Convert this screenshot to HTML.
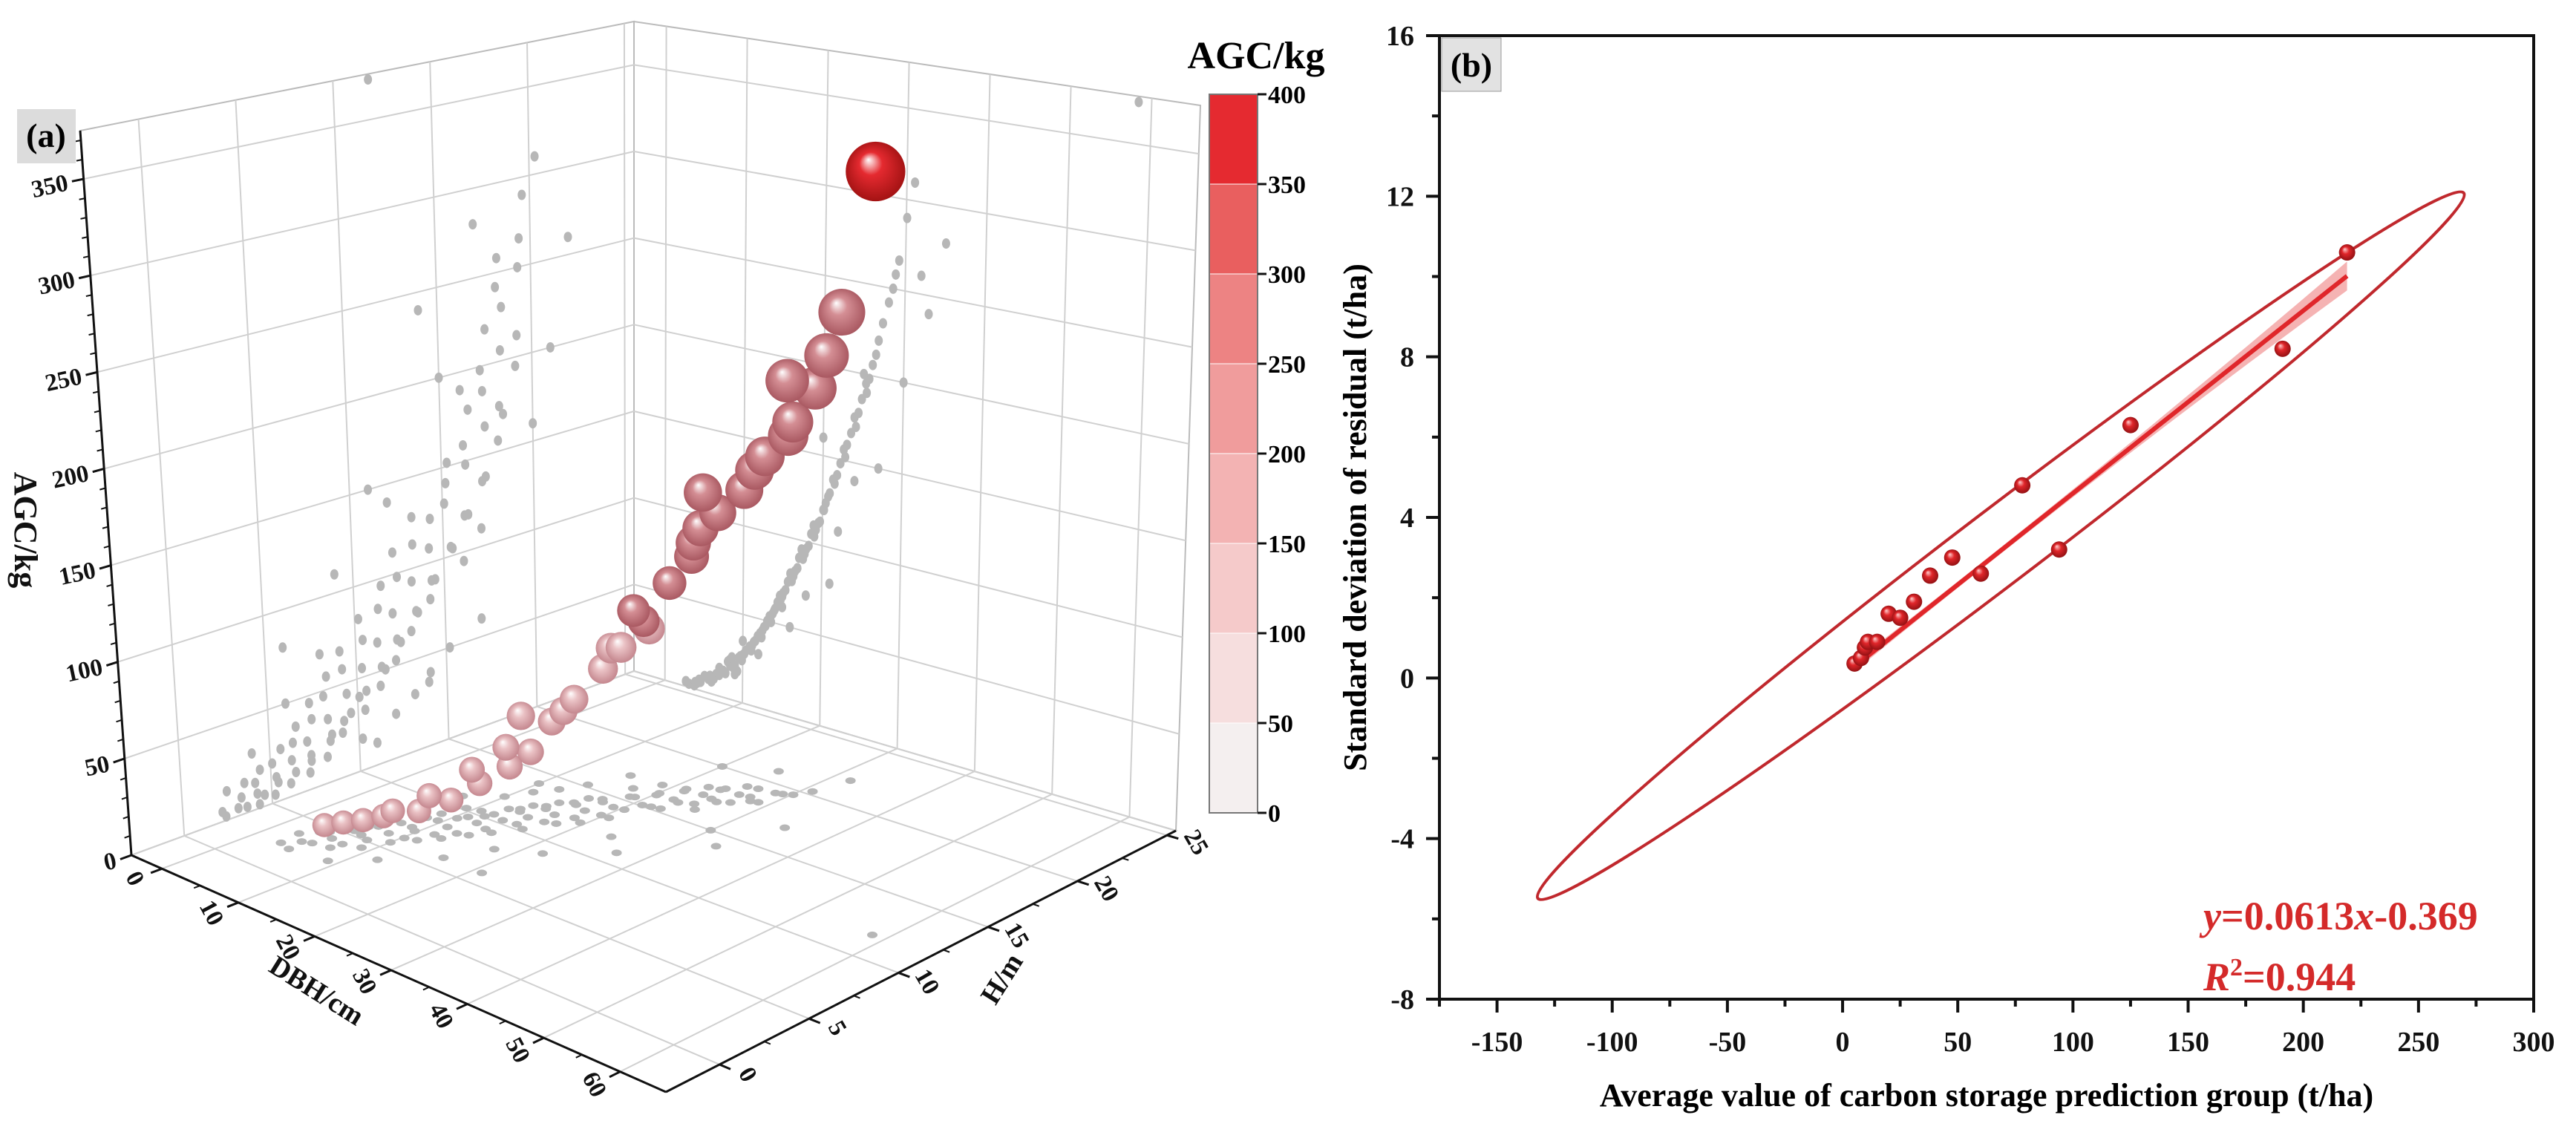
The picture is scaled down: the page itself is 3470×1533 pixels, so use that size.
<!DOCTYPE html>
<html><head><meta charset="utf-8">
<style>
html,body{margin:0;padding:0;background:#fff;}
svg{display:block;font-family:"Liberation Serif",serif;}
</style></head>
<body>
<svg id="fig" width="3470" height="1533" viewBox="0 0 3470 1533" xmlns="http://www.w3.org/2000/svg">
<defs id="defs"></defs>
<g id="panelA"></g>
<g id="panelB"></g>
</svg>
<script>
// ---------- Panel (a) data ----------
const bubbleDBH = [7.8,9.9,11.8,13.5,16.5,17.7,19.0,20.7,21.9,23.2,24.7,25.9,27.4,28.9,30.1,31.4,32.9,33.6,34.3,58.4,32.2,30.8,28.1,25.2,23.8,19.9,17.0,14.7,12.3,10.6,8.8,6.5,5.3,4.2,22.5,26.6,29.5,15.6,18.3];
const bubbleH   = [6.2,7.3,8.3,9.2,10.8,11.5,12.2,13.1,13.6,14.3,15.1,15.8,16.6,17.4,18.0,18.7,19.5,19.8,20.3,11.8,18.3,19.2,15.5,16.2,13.5,13.9,10.1,10.2,9.3,7.6,6.3,5.6,5.0,4.4,14.9,16.0,17.7,10.0,11.9];
const bubbleAGC = [8,10,15,23,38,53,64,79,90,103,122,135,157,168,185,195,219,236,258,372,226,200,172,140,112,86,60,40,28,18,12,6,5,4,96,150,178,32,58];
const treeDBH = [3.1,2.7,3.8,4.2,4.6,3.9,4.4,5.6,5.1,6.0,5.8,6.3,6.9,7.2,6.6,7.5,7.0,7.8,8.4,8.1,8.9,8.3,9.0,8.6,9.3,9.7,10.2,9.5,10.4,10.0,10.8,9.9,11.2,11.6,10.9,11.9,11.4,12.3,11.1,12.5,12.9,12.2,13.1,12.7,13.4,12.4,13.8,14.1,13.5,14.4,14.0,14.7,13.6,15.0,15.4,14.8,15.7,15.1,16.0,16.4,16.9,16.2,17.1,16.6,17.4,17.8,18.3,17.6,18.6,18.0,18.9,19.2,19.7,19.0,20.1,19.5,20.4,20.9,20.2,21.3,20.7,21.8,22.2,21.5,22.6,23.0,23.5,22.8,23.9,24.4,24.8,24.1,25.3,25.7,26.1,25.4,26.8,27.3,26.5,28.0,28.5,29.2,28.8,30.1,58.4,31,12,18,24,15,10,22,30,27,33,7,20,35,9,16,25,32,21];
const treeH   = [2.4,3.6,4.3,3.1,2.2,5.2,4.6,4.2,3.3,6.1,5.4,7.2,5.3,4.1,6.4,7.3,3.5,8.2,6.2,5.1,7.3,8.4,4.4,9.1,10.2,7.1,6.3,8.5,9.2,5.6,10.4,12.1,8.3,7.4,9.6,10.1,6.5,11.3,13.2,9.4,8.1,10.5,11.6,7.3,12.2,14.1,10.3,9.2,11.4,12.5,8.3,13.1,15.2,11.2,10.4,12.3,13.5,9.1,14.2,12.1,11.3,13.4,14.5,10.2,16.1,13.2,12.4,14.3,15.4,11.5,17.1,14.2,13.3,15.5,16.4,12.2,14.3,15.1,16.2,17.4,13.3,15.2,16.3,17.2,18.1,16.2,17.4,15.3,18.2,16.5,17.3,18.4,19.1,17.2,18.3,16.1,17.5,18.4,19.2,18.1,19.3,19.4,18.2,19.6,11.8,20.3,4,8,12,17,14,9,15,11,14,11,20,17,2.5,6,21,22,6];
const treeAGC = [2,3,2,4,5,4,6,8,9,7,10,9,13,14,12,15,16,14,19,21,18,22,20,24,17,26,28,25,30,27,32,24,34,37,33,40,36,42,31,44,47,42,50,46,53,40,55,58,52,62,57,66,50,66,70,64,75,68,80,79,84,76,90,82,95,93,98,90,105,96,110,108,113,104,120,112,124,130,120,138,128,141,148,136,156,159,166,152,175,178,186,170,195,198,206,190,220,230,212,242,250,266,258,290,372,310,30,70,140,60,35,110,200,150,240,12,160,280,15,50,200,260,80];
const agcTicks = [0,50,100,150,200,250,300,350];
const dbhTicks = [0,10,20,30,40,50,60];
const hTicks = [0,5,10,15,20,25];
const cbarTicks = [0,50,100,150,200,250,300,350,400];
const cbarColors = ["#f4efef","#f6dede","#f5caca","#f3b3b3","#f09c9c","#ed8383","#e95f5f","#e52a30"];

// ---------- Panel (b) data ----------
const groupMean = [5.2,8,9.7,11,15,20,25,31,38,47.6,60,78,94,125,191,219];
const groupSD   = [0.36,0.5,0.76,0.9,0.9,1.6,1.5,1.9,2.55,3.0,2.6,4.8,3.2,6.3,8.2,10.6];
const fitCoef = [0.0455,0.05];
const xTicksB = [-150,-100,-50,0,50,100,150,200,250,300];
const yTicksB = [-8,-4,0,4,8,12,16];

const NS="http://www.w3.org/2000/svg";
function mk(tag,attrs,parent){const e=document.createElementNS(NS,tag);for(const k in attrs)e.setAttribute(k,attrs[k]);if(parent)parent.appendChild(e);return e;}
const defs=document.getElementById('defs');

// ================= PANEL A =================
const gA=document.getElementById('panelA');
const AMAX=375, DMIN=-4, DMAX=66, HMIN=-3, HMAX=25.5;
const botQ={L:[177,1152],F:[897,1471],B:[854,904],R:[1584,1119]};
const topQ={L:[108,176],F:[880,341],B:[854,29],R:[1617,142]};
function bil(q,u,v){const w1=(1-u)*(1-v),w2=u*(1-v),w3=(1-u)*v,w4=u*v;
  return [w1*q.L[0]+w2*q.F[0]+w3*q.B[0]+w4*q.R[0], w1*q.L[1]+w2*q.F[1]+w3*q.B[1]+w4*q.R[1]];}
function P(D,H,A){const u=(D-DMIN)/(DMAX-DMIN),v=(H-HMIN)/(HMAX-HMIN),a=A/AMAX;const b=bil(botQ,u,v),t=bil(topQ,u,v);return [b[0]+(t[0]-b[0])*a,b[1]+(t[1]-b[1])*a];}
function poly(pts,attrs,parent){attrs.points=pts.map(p=>p[0].toFixed(1)+','+p[1].toFixed(1)).join(' ');return mk('polygon',attrs,parent);}
function line(p1,p2,attrs,parent){return mk('line',Object.assign({x1:p1[0],y1:p1[1],x2:p2[0],y2:p2[1]},attrs),parent);}

const wallL=poly([P(DMIN,HMIN,0),P(DMIN,HMAX,0),P(DMIN,HMAX,AMAX),P(DMIN,HMIN,AMAX)],{fill:'#fff',stroke:'#bbb','stroke-width':2},gA);


const wallR=poly([P(DMIN,HMAX,0),P(DMAX,HMAX,0),P(DMAX,HMAX,AMAX),P(DMIN,HMAX,AMAX)],{fill:'#fff',stroke:'#bbb','stroke-width':2},gA);


const floorP=poly([P(DMIN,HMIN,0),P(DMAX,HMIN,0),P(DMAX,HMAX,0),P(DMIN,HMAX,0)],{fill:'#fff',stroke:'#bbb','stroke-width':2},gA);


const grid=mk('g',{stroke:'#d0d0d0','stroke-width':2,fill:'none'},gA);


hTicks.forEach(h=>{line(P(DMIN,h,0),P(DMIN,h,AMAX),{},grid);line(P(DMIN,h,0),P(DMAX,h,0),{},grid);});
dbhTicks.forEach(d=>{line(P(d,HMAX,0),P(d,HMAX,AMAX),{},grid);line(P(d,HMIN,0),P(d,HMAX,0),{},grid);});
agcTicks.forEach(a=>{line(P(DMIN,HMIN,a),P(DMIN,HMAX,a),{},grid);line(P(DMIN,HMAX,a),P(DMAX,HMAX,a),{},grid);});

const sh=mk('g',{fill:'#b7b7b7'},gA);


for(let i=0;i<treeDBH.length;i++){
  const fp=P(treeDBH[i],treeH[i],0), lp=P(DMIN,treeH[i],treeAGC[i]), rp=P(treeDBH[i],HMAX,treeAGC[i]);
  const e1=mk('ellipse',{cx:fp[0],cy:fp[1],rx:7,ry:4.5},sh);
  
  
  const e2=mk('ellipse',{cx:lp[0],cy:lp[1],rx:5.5,ry:7},sh);
  
  
  const e3=mk('ellipse',{cx:rp[0],cy:rp[1],rx:5.5,ry:7},sh);
  
  
}

const ax=mk('g',{stroke:'#111','stroke-width':3,fill:'none'},gA);


line(P(DMIN,HMIN,0),P(DMIN,HMIN,AMAX),{},ax);
line(P(DMIN,HMIN,0),P(DMAX,HMIN,0),{},ax);
line(P(DMAX,HMIN,0),P(DMAX,HMAX,0),{},ax);
function norm(v,l){const n=Math.hypot(v[0],v[1]);return [v[0]/n*l,v[1]/n*l];}
const labs=mk('g',{fill:'#111','font-weight':'bold','font-size':33},gA);


agcTicks.forEach(a=>{const p=P(DMIN,HMIN,a);const q=P(DMIN,HMIN+2.5,a);const d=norm([p[0]-q[0],p[1]-q[1]],16);
  line(p,[p[0]+d[0],p[1]+d[1]],{},ax);
  const t=mk('text',{x:p[0]+d[0]-6,y:p[1]+d[1]+12,'text-anchor':'end',transform:`rotate(-12 ${p[0]+d[0]-6} ${p[1]+d[1]})`},labs);t.textContent=a;
  
  });
for(let a=10;a<AMAX;a+=10){if(a%50){const p=P(DMIN,HMIN,a),q=P(DMIN,HMIN+2.5,a),d=norm([p[0]-q[0],p[1]-q[1]],8);line(p,[p[0]+d[0],p[1]+d[1]],{'stroke-width':2},ax);}}
dbhTicks.forEach(dv=>{const p=P(dv,HMIN,0),q=P(dv,HMIN+2.5,0),d=norm([p[0]-q[0],p[1]-q[1]],16);
  line(p,[p[0]+d[0],p[1]+d[1]],{},ax);
  const x=p[0]+d[0]*2.6,y=p[1]+d[1]*2.6;
  const t=mk('text',{x:x,y:y,'text-anchor':'middle','dominant-baseline':'middle',transform:`rotate(62 ${x} ${y})`},labs);t.textContent=dv;
  
  });
for(let dv=5;dv<60;dv+=10){const p=P(dv,HMIN,0),q=P(dv,HMIN+2.5,0),d=norm([p[0]-q[0],p[1]-q[1]],9);line(p,[p[0]+d[0],p[1]+d[1]],{'stroke-width':2},ax);}
hTicks.forEach(hv=>{const p=P(DMAX,hv,0),q=P(DMAX-5,hv,0),d=norm([p[0]-q[0],p[1]-q[1]],16);
  line(p,[p[0]+d[0],p[1]+d[1]],{},ax);
  const x=p[0]+d[0]*2.4,y=p[1]+d[1]*2.4;
  const t=mk('text',{x:x,y:y,'text-anchor':'middle','dominant-baseline':'middle',transform:`rotate(60 ${x} ${y})`},labs);t.textContent=hv;
  
  });
for(let hv=2.5;hv<25;hv+=5){const p=P(DMAX,hv,0),q=P(DMAX-5,hv,0),d=norm([p[0]-q[0],p[1]-q[1]],9);line(p,[p[0]+d[0],p[1]+d[1]],{'stroke-width':2},ax);}
const tA=mk('text',{x:20,y:714,'text-anchor':'middle','font-size':44,transform:'rotate(90 20 714)'},labs);tA.textContent='AGC/kg';


const tD=mk('text',{x:420,y:1345,'text-anchor':'middle','font-size':38,transform:'rotate(32 420 1345)'},labs);tD.textContent='DBH/cm';


const tH=mk('text',{x:1360,y:1325,'text-anchor':'middle','font-size':38,transform:'rotate(-58 1360 1325)'},labs);tH.textContent='H/m';



cbarColors.forEach((c,i)=>{const g=mk('radialGradient',{id:'sph'+i,cx:'50%',cy:'50%',r:'55%',fx:'38%',fy:'30%'},defs);
  mk('stop',{offset:'0%','stop-color':'#ffffff'},g);
  mk('stop',{offset:'35%','stop-color':i<2?'#eac2c5':(i<7?'#d48e94':c)},g);
  mk('stop',{offset:'100%','stop-color':i<2?'#c08088':(i<7?'#a4525b':'#9c1010')},g);});
const bub=mk('g',{},gA);


const order=bubbleDBH.map((d,i)=>i).sort((a,b)=>bubbleAGC[a]-bubbleAGC[b]);
order.forEach(i=>{const p=P(bubbleDBH[i],bubbleH[i],bubbleAGC[i]);const A=bubbleAGC[i];
  const rr=16+A*0.05+A*A*0.00004;const bd=Math.min(7,Math.floor(A/50));
  const c=mk('circle',{cx:p[0],cy:p[1],r:rr,fill:`url(#sph${bd})`},bub);
  
  });

const la=mk('g',{},gA);


mk('rect',{x:23,y:147,width:79,height:73,fill:'#dcdcdc'},la);
const lat=mk('text',{x:62,y:198,'text-anchor':'middle','font-size':46,'font-weight':'bold'},la);lat.textContent='(a)';

const cb=mk('g',{},gA);


const cbx=1629,cbw=65,cbTop=127,cbBot=1095;
const cyf=v=>cbBot-(v/400)*(cbBot-cbTop);
cbarColors.forEach((c,i)=>{const rc=mk('rect',{x:cbx,y:cyf((i+1)*50),width:cbw,height:cyf(i*50)-cyf((i+1)*50),fill:c,stroke:'#fff','stroke-width':1},cb);
  
  });
mk('rect',{x:cbx,y:cbTop,width:cbw,height:cbBot-cbTop,fill:'none',stroke:'#777','stroke-width':2},cb);
cbarTicks.forEach(v=>{mk('line',{x1:cbx+cbw,x2:cbx+cbw+12,y1:cyf(v),y2:cyf(v),stroke:'#111','stroke-width':3},cb);
  const t=mk('text',{x:cbx+cbw+14,y:cyf(v)+12,'font-size':34,'font-weight':'bold'},cb);t.textContent=v;
  
  });
const cbt=mk('text',{x:1692,y:92,'text-anchor':'middle','font-size':52,'font-weight':'bold'},cb);cbt.textContent='AGC/kg';



// ================= PANEL B =================
const gB=document.getElementById('panelB');
const X0=1939,X1=3413,Y0=48,Y1=1346;
const xs=v=>X0+(v-(-175))/(300-(-175))*(X1-X0);
const ys=v=>Y1-(v-(-8))/(16-(-8))*(Y1-Y0);
const frame=mk('rect',{x:X0,y:Y0,width:X1-X0,height:Y1-Y0,fill:'none',stroke:'#111','stroke-width':4},gB);


const axb=mk('g',{stroke:'#111','stroke-width':4},gB);


const tb=mk('g',{fill:'#111','font-weight':'bold','font-size':38},gB);


xTicksB.forEach(v=>{mk('line',{x1:xs(v),x2:xs(v),y1:Y1,y2:Y1+18},axb);
  const t=mk('text',{x:xs(v),y:1416,'text-anchor':'middle'},tb);t.textContent=v;
  
  });
for(let v=-175;v<300;v+=50)mk('line',{x1:xs(v),x2:xs(v),y1:Y1,y2:Y1+10},axb);
yTicksB.forEach(v=>{mk('line',{x1:X0-18,x2:X0,y1:ys(v),y2:ys(v)},axb);
  const t=mk('text',{x:1905,y:ys(v)+13,'text-anchor':'end'},tb);t.textContent=v;
  
  });
for(let v=-6;v<16;v+=4)mk('line',{x1:X0-10,x2:X0,y1:ys(v),y2:ys(v)},axb);
const xt=mk('text',{x:2676,y:1490,'text-anchor':'middle','font-size':44,'font-weight':'bold'},gB);xt.textContent='Average value of carbon storage prediction group (t/ha)';


const yt=mk('text',{x:1840,y:697,'text-anchor':'middle','font-size':44,'font-weight':'bold',transform:'rotate(-90 1840 697)'},gB);yt.textContent='Standard deviation of residual (t/ha)';


const lb=mk('g',{},gB);


mk('rect',{x:1942,y:51,width:80,height:72,fill:'#e2e2e2',stroke:'#999','stroke-width':1},lb);
const lbt=mk('text',{x:1982,y:103,'text-anchor':'middle','font-size':46,'font-weight':'bold'},lb);lbt.textContent='(b)';
const n=groupMean.length;
const mx=groupMean.reduce((a,b)=>a+b)/n,my=groupSD.reduce((a,b)=>a+b)/n;
const ecx=xs(mx+7.6),ecy=ys(my+0.19);
const el=mk('ellipse',{cx:ecx,cy:ecy,rx:784,ry:50,transform:`rotate(-37.3 ${ecx} ${ecy})`,fill:'none',stroke:'#c0282d','stroke-width':4},gB);


const xmin=Math.min(...groupMean),xmax=Math.max(...groupMean);
const fit=x=>fitCoef[0]*x+fitCoef[1];
let up=[],dn=[];
for(let s=0;s<=20;s++){const x=xmin+(xmax-xmin)*s/20;const hw=0.08+0.28*Math.pow((x-mx)/(xmax-mx),2);up.push([xs(x),ys(fit(x)+hw)]);dn.unshift([xs(x),ys(fit(x)-hw)]);}
const cband=poly(up.concat(dn),{fill:'#f29a9a',opacity:0.75},gB);


const fl=mk('line',{x1:xs(xmin),y1:ys(fit(xmin)),x2:xs(xmax),y2:ys(fit(xmax)),stroke:'#e0262a','stroke-width':6},gB);


const gr=mk('radialGradient',{id:'redball',cx:'50%',cy:'50%',r:'55%',fx:'35%',fy:'30%'},defs);
mk('stop',{offset:'0%','stop-color':'#ffd0d0'},gr);mk('stop',{offset:'40%','stop-color':'#e0262a'},gr);mk('stop',{offset:'100%','stop-color':'#8a0e10'},gr);
for(let i=0;i<n;i++){const c=mk('circle',{cx:xs(groupMean[i]),cy:ys(groupSD[i]),r:11,fill:'url(#redball)'},gB);
  
  }
const eq=mk('text',{x:2968,y:1252,'font-size':54,'font-weight':'bold',fill:'#d42a2a'},gB);
eq.innerHTML='<tspan font-style="italic">y</tspan>=0.0613<tspan font-style="italic">x</tspan>-0.369';


const r2=mk('text',{x:2968,y:1334,'font-size':54,'font-weight':'bold',fill:'#d42a2a'},gB);
r2.innerHTML='<tspan font-style="italic">R</tspan><tspan font-size="34" dy="-20">2</tspan><tspan dy="20">=0.944</tspan>';


</script>
</body></html>
